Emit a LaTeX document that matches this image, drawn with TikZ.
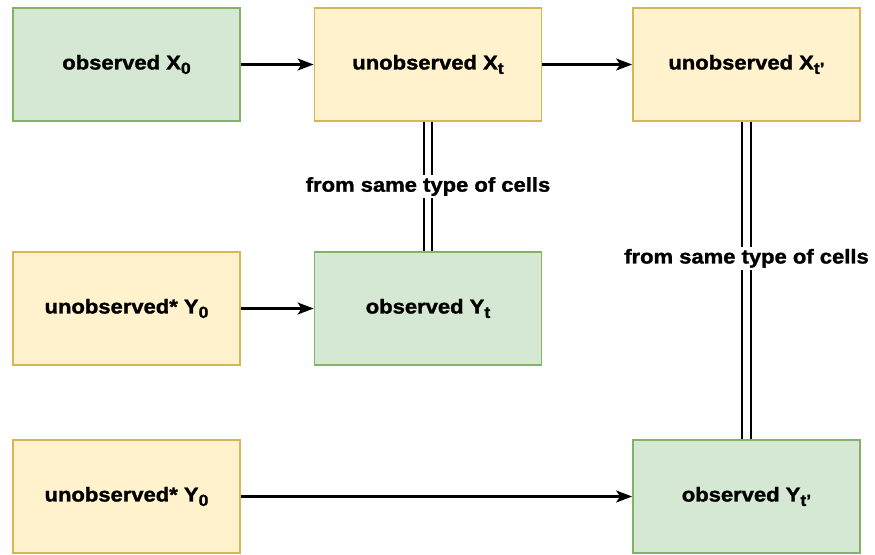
\documentclass[tikz,border=0pt]{standalone}
\usepackage{fontspec}
\setmainfont{Liberation Sans}[FakeStretch=1.1, FakeBold=1.5]
\usetikzlibrary{arrows.meta}
\definecolor{gfill}{HTML}{D5E8D4}
\definecolor{gline}{HTML}{82B366}
\definecolor{yfill}{HTML}{FFF2CC}
\definecolor{yline}{HTML}{D6B656}
\newcommand{\mysub}[1]{\raisebox{-0.22em}{\fontsize{16}{16}\selectfont #1}}
\begin{document}
\begin{tikzpicture}[x=1pt,y=-1pt,
  font=\bfseries\fontsize{20}{22}\selectfont,
  box/.style={draw, line width=1.8pt, minimum width=227pt, minimum height=113pt, inner sep=0pt},
  obs/.style={box, fill=gfill, draw=gline},
  unobs/.style={box, fill=yfill, draw=yline},
  arr/.style={line width=2.2pt, -{Stealth[length=16pt,width=12pt,inset=4pt]}},
  dbl/.style={line width=2.2pt, double distance=6.5pt},
  lbl/.style={fill=white, inner sep=2pt}]
\useasboundingbox (0,0) rectangle (875,554);
\node[obs]   (x0)  at (126.5,64.5)  {observed X\mysub{0}};
\node[unobs] (xt)  at (428,64.5)    {unobserved X\mysub{t}};
\node[unobs] (xtp) at (746.5,64.5)  {unobserved X\mysub{t'}};
\node[unobs] (y0a) at (126.5,308.5) {unobserved* Y\mysub{0}};
\node[obs]   (yt)  at (428,308.5)   {observed Y\mysub{t}};
\node[unobs] (y0b) at (126.5,496.5) {unobserved* Y\mysub{0}};
\node[obs]   (ytp) at (746.5,496.5) {observed Y\mysub{t'}};
\draw[arr] (x0) -- (xt);
\draw[arr] (xt) -- (xtp);
\draw[arr] (y0a) -- (yt);
\draw[arr] (y0b) -- (ytp);
\draw[dbl] (xt) -- node[lbl] {from same type of cells} (yt);
\draw[dbl] (xtp) -- node[lbl, pos=0.43] {from same type of cells} (ytp);
\end{tikzpicture}
\end{document}
